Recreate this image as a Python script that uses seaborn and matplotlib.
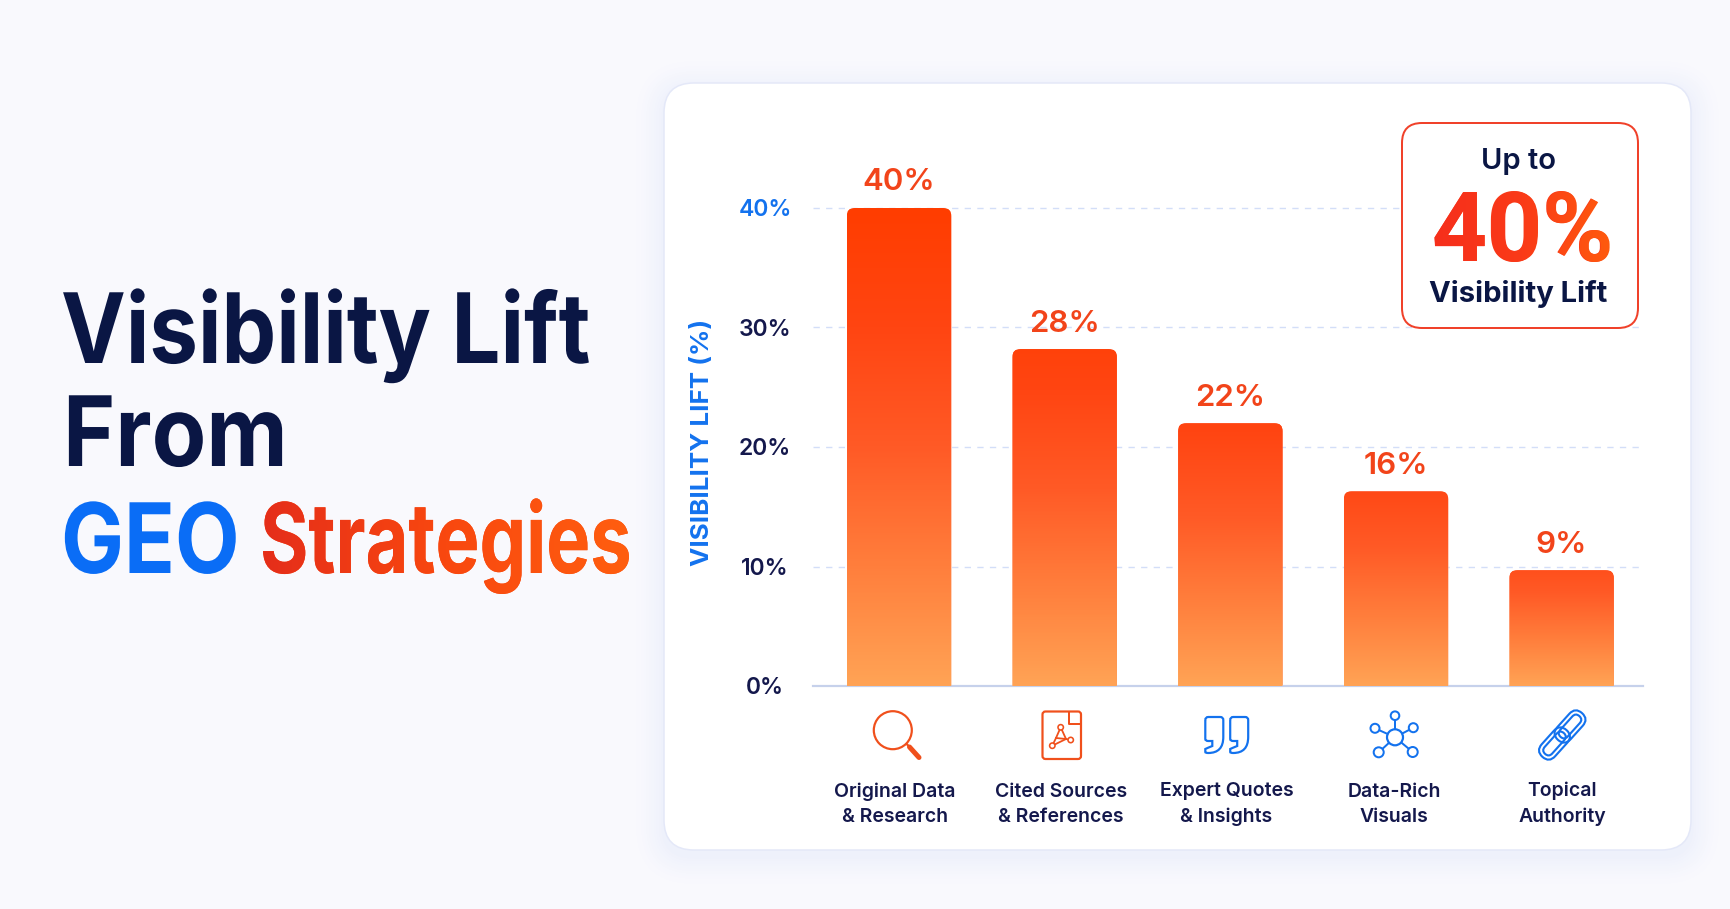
import matplotlib
matplotlib.use("Agg")
import matplotlib.pyplot as plt
import numpy as np
import pandas as pd
import seaborn as sns
from matplotlib.colors import LinearSegmentedColormap, to_hex, to_rgb
from matplotlib.font_manager import FontProperties
from matplotlib.patches import Circle, FancyBboxPatch, PathPatch
from matplotlib.path import Path
from matplotlib.patheffects import AbstractPathEffect
from matplotlib.text import Text
from matplotlib.textpath import TextPath
from matplotlib.transforms import Affine2D, Bbox, IdentityTransform

# Chart data
strategies = ["Original Data\n& Research", "Cited Sources\n& References", "Expert Quotes\n& Insights",
              "Data-Rich\nVisuals", "Topical\nAuthority"]
lift = [40, 28.2, 22, 16.3, 9.7]
lift_labels = ["40%", "28%", "22%", "16%", "9%"]
y_ticks = [0, 10, 20, 30, 40]
y_tick_labels = ["0%", "10%", "20%", "30%", "40%"]

W, H = 1731, 909
FONT = "Inter"
BIG_FONT = "Roboto"
NAVY = "#0A1644"
TICK_NAVY = "#14184C"
BLUE = "#1372EE"
ORANGE = "#F0501C"
LABEL_RED = "#F2441A"
BG = "#F9F9FD"

sns.set_theme(style="white")
plt.rcParams["font.family"] = [FONT, "DejaVu Sans"]

fig = plt.figure(figsize=(W / 100, H / 100), dpi=100, facecolor=BG)


def pixel_axes(z):
    a = fig.add_axes([0, 0, 1, 1], zorder=z)
    a.set_xlim(0, W)
    a.set_ylim(H, 0)
    a.axis("off")
    a.patch.set_alpha(0)
    return a


def lw(px):
    return px * 0.72


bg = pixel_axes(0)
fg = pixel_axes(2)

# card with soft shadow, opaque rings so low alpha does not band
cx0, cy0, cx1, cy1 = 664, 83, 1691, 850
bg_rgb, shadow_rgb = np.array(to_rgb(BG)), np.array(to_rgb("#EDF0FB"))
n_rings = 12
for i in range(n_rings, 0, -1):
    grow = i * 2.5
    mix = (1 - i / (n_rings + 1)) ** 1.5
    bg.add_patch(FancyBboxPatch((cx0 - grow, cy0 - grow + 6), cx1 - cx0 + 2 * grow, cy1 - cy0 + 2 * grow,
                                boxstyle=f"round,pad=0,rounding_size={30 + grow}",
                                fc=to_hex(bg_rgb + (shadow_rgb - bg_rgb) * mix), ec="none"))
bg.add_patch(FancyBboxPatch((cx0, cy0), cx1 - cx0, cy1 - cy0, boxstyle="round,pad=0,rounding_size=30",
                            fc="white", ec="#E4E8F8", lw=lw(1.5)))

# bar chart
px_left, px_right, px_zero, px_per_unit = 813, 1643, 686, 11.95
y_max = 49
ax_h = y_max * px_per_unit
ax = fig.add_axes([px_left / W, 1 - px_zero / H, (px_right - px_left) / W, ax_h / H], zorder=1)
ax.patch.set_alpha(0)

df = pd.DataFrame({"strategy": strategies, "lift": lift})
sns.barplot(data=df, x="strategy", y="lift", color="#FF5A26", saturation=1, width=0.631, ax=ax)

spacing = 165.65
x_limits = (-(899 - px_left) / spacing, 4 + (px_right - 1561.6) / spacing)
ax.set_xlim(x_limits)
ax.set_ylim(0, y_max)
ax.set_xticks([])
ax.set_xlabel("")
sns.despine(ax=ax, left=True, top=True, right=True)
ax.spines["bottom"].set_color("#C6D1EB")
ax.spines["bottom"].set_linewidth(lw(2.2))

ax.set_yticks(y_ticks, labels=y_tick_labels)
ax.tick_params(axis="y", length=0, pad=lw(48), labelsize=16.5)
for lab, val in zip(ax.get_yticklabels(), y_ticks):
    lab.set_ha("center")
    lab.set_fontweight(600)
    lab.set_color(BLUE if val == 40 else TICK_NAVY)
ax.yaxis.grid(True, color="#D3DEF8", lw=lw(1.4), ls=(0, (4.5, 4.5)))
ax.set_axisbelow(True)
ax.set_ylabel("VISIBILITY LIFT (%)", color=BLUE, fontsize=18.7, fontweight=700, va="center")
ax.yaxis.set_label_coords((703 - px_left) / (px_right - px_left), (px_zero - 442) / ax_h)

# gradient fill with rounded top corners on each bar
cmap = LinearSegmentedColormap.from_list("lift", [(0, "#FFA355"), (0.25, "#FF7E3C"), (0.5, "#FF5A26"),
                                                  (0.75, "#FF4512"), (1, "#FF3D00")])
fig.canvas.draw()
for bar in ax.containers[0]:
    x0, w, h = bar.get_x(), bar.get_width(), bar.get_height()
    (p0x, p0y), (p1x, p1y) = ax.transData.transform([(x0, 0), (x0 + w, h)])
    clip = FancyBboxPatch((p0x, p0y - 30), p1x - p0x, p1y - p0y + 30, boxstyle="round,pad=0,rounding_size=8",
                          transform=IdentityTransform())
    bar.set_clip_path(clip)
    ys = np.linspace(h, 0, 200)[:, None]
    im = ax.imshow(0.5 * ys / 40 + 0.5 * ys / h, cmap=cmap, vmin=0, vmax=1, aspect="auto",
                   extent=(x0, x0 + w, 0, h), zorder=3)
    im.set_clip_path(clip)
ax.set_xlim(x_limits)
ax.set_ylim(0, y_max)

for t in ax.bar_label(ax.containers[0], labels=lift_labels, padding=lw(17.5), fontsize=22.5, fontweight=600,
                      color=LABEL_RED, zorder=4):
    t.set_va("baseline")

# category labels below the axis
label_dx = [-4, -3.4, -3.8, -2, 0.6]
for i, name in enumerate(strategies):
    ax.annotate(name, xy=(i, 0), xytext=(lw(label_dx[i]), lw(-135.5)), textcoords="offset points",
                ha="center", va="baseline", fontsize=14, fontweight=600, color=TICK_NAVY, linespacing=1.47,
                annotation_clip=False)


# icons
def ring(a, x, y, r, color, width=2.0, face="white"):
    a.add_patch(Circle((x, y), r, fc=face, ec=color, lw=lw(width), zorder=5))


def stroke(a, pts, color, width=2.0, z=4):
    xs, ys = zip(*pts)
    a.plot(xs, ys, color=color, lw=lw(width), solid_capstyle="round", solid_joinstyle="round", zorder=z)


# magnifier
ring(fg, 892.8, 730.2, 19, ORANGE, 2.2)
stroke(fg, [(906.5, 743.8), (910, 747.5)], ORANGE, 2.2)
stroke(fg, [(909.5, 747), (919, 757.5)], ORANGE, 5)

# pdf file
fg.add_patch(FancyBboxPatch((1042.5, 711.5), 38.5, 47.5, boxstyle="round,pad=0,rounding_size=3",
                            fc="white", ec=ORANGE, lw=lw(2.2), zorder=4))
stroke(fg, [(1069.5, 712), (1069.5, 723.5), (1080.5, 723.5)], ORANGE, 2)
for a_pt, b_pt in [((1060.7, 727.3), (1056, 738)), ((1060.7, 727.3), (1066, 739)), ((1052.3, 745.7), (1056, 738)),
                   ((1056, 738), (1066, 739)), ((1052.3, 745.7), (1066, 739)), ((1066, 739), (1070.7, 740))]:
    stroke(fg, [a_pt, b_pt], ORANGE, 1.8)
for px, py in [(1060.7, 727.3), (1052.3, 745.7), (1070.7, 740)]:
    ring(fg, px, py, 2.7, ORANGE, 1.6)

# quotes
quote_verts = [(0, 3), (0, 22), (0, 24), (3, 24), (7, 24), (7, 27), (7, 29), (2, 31), (0, 32), (0, 35), (0, 36),
               (3, 36), (18, 36), (18, 20), (18, 3), (18, 0), (15, 0), (3, 0), (0, 0), (0, 3)]
quote_codes = [Path.MOVETO, Path.LINETO, Path.CURVE3, Path.CURVE3, Path.LINETO, Path.CURVE3, Path.CURVE3,
               Path.CURVE3, Path.CURVE3, Path.LINETO, Path.CURVE3, Path.CURVE3, Path.CURVE3, Path.CURVE3, Path.LINETO,
               Path.CURVE3, Path.CURVE3, Path.LINETO, Path.CURVE3, Path.CURVE3]
for qx in (1205.3, 1230.2):
    fg.add_patch(PathPatch(Path(quote_verts, quote_codes), fc="none", ec=BLUE, lw=lw(2.2),
                           transform=Affine2D().translate(qx, 717) + fg.transData, zorder=4))

# network
hub = (1395, 737.3)
for sx, sy, r in [(1395, 715.7, 4.3), (1375, 728.3, 4.5), (1413.3, 727.7, 4.5), (1378.7, 752.3, 5), (1412.7, 752, 5)]:
    stroke(fg, [hub, (sx, sy)], BLUE, 2)
    ring(fg, sx, sy, r, BLUE, 2)
ring(fg, hub[0], hub[1], 8, BLUE, 2.2)

# chain link, two links with an inner and outer outline
for lx, ly in [(1570, 726.5), (1554.5, 743.5)]:
    for half_w, half_l in [(9, 18), (5, 14)]:
        link = FancyBboxPatch((-half_l, -half_w), 2 * half_l, 2 * half_w,
                              boxstyle=f"round,pad=0,rounding_size={half_w}", fc="none", ec=BLUE, lw=lw(2.1),
                              transform=Affine2D().rotate_deg(-48).translate(lx, ly) + fg.transData, zorder=4)
        fg.add_patch(link)

# badge in the upper right corner
fg.add_patch(FancyBboxPatch((1402, 123), 236, 205, boxstyle="round,pad=0,rounding_size=20",
                            fc="white", ec="#F0412A", lw=lw(2), zorder=3))
fg.text(1519, 169, "Up to", ha="center", va="baseline", fontsize=21, fontweight=600, color=NAVY, zorder=6)
fg.text(1518, 302, "Visibility Lift", ha="center", va="baseline", fontsize=21, fontweight=700, color=NAVY, zorder=6)


class Squeeze(AbstractPathEffect):
    # the headline lettering is narrower than any installed bold, so squeeze the glyphs sideways
    def __init__(self, x_display, factor):
        super().__init__()
        self.x_display = x_display
        self.factor = factor

    def draw_path(self, renderer, gc, tpath, affine, rgbFace=None):
        squeeze = Affine2D().translate(-self.x_display, 0).scale(self.factor, 1).translate(self.x_display, 0)
        renderer.draw_path(gc, tpath, affine + squeeze, rgbFace)


class SqueezedText(Text):
    def __init__(self, x, y, s, factor, **kwargs):
        super().__init__(x, y, s, **kwargs)
        self.factor = factor

    def get_window_extent(self, renderer=None, dpi=None):
        bb = super().get_window_extent(renderer, dpi)
        return Bbox.from_extents(bb.x0, bb.y0, bb.x0 + bb.width * self.factor, bb.y1)


def headline(s, x, y, factor, color, z=6):
    t = SqueezedText(x, y, s, factor, fontsize=70, fontweight=700, va="baseline", family=[FONT], color=color,
                     zorder=z)
    t.set_path_effects([Squeeze(fg.transData.transform((x, y))[0], factor)])
    fg.add_artist(t)


def gradient_fill(s, x, y, size_px, font, colors, factor=1.0):
    # gradient overlay clipped to the outline of the real text underneath
    fp = FontProperties(family=font, weight="bold")
    tp = TextPath((0, 0), s, size=size_px, prop=fp)
    bb = tp.get_extents()
    shape = PathPatch(tp, transform=Affine2D().scale(factor, -1).translate(x, y) + fg.transData, fc="none", ec="none")
    grad = LinearSegmentedColormap.from_list("g", colors)(np.linspace(0, 1, 300)[None, :])
    img = fg.imshow(grad, extent=(x + bb.x0 * factor, x + bb.x1 * factor, y + 5 - bb.y0, y - bb.y1 - 5),
                    aspect="auto", zorder=7)
    img.set_clip_path(shape)
    fg.set_xlim(0, W)
    fg.set_ylim(H, 0)


# big number in the badge
big_colors = ["#F62F1C", "#FA3A18", "#FF5A0E"]
big_size = 96.5
big_box = TextPath((0, 0), "40%", size=big_size, prop=FontProperties(family=BIG_FONT, weight="bold")).get_extents()
big_x = 1522 - (big_box.x0 + big_box.x1) / 2
fg.text(big_x, 261, "40%", va="baseline", fontsize=big_size * 0.72, family=[BIG_FONT], fontweight="bold",
        color=big_colors[1], zorder=6)
gradient_fill("40%", big_x, 261, big_size, BIG_FONT, big_colors)

# headline
headline("Visibility Lift", 61, 363, 0.893, NAVY)
headline("From", 63, 466, 0.917, NAVY)
headline("GEO", 61, 573, 0.863, "#0A6DF6")
strat_colors = ["#E52E1A", "#F9480F", "#FF5E10"]
headline("Strategies", 260, 573, 0.76, strat_colors[1])
gradient_fill("Strategies", 260, 573, 70 / 0.72, FONT, strat_colors, factor=0.76)

fig.savefig("out.png", dpi=100, facecolor=BG)
